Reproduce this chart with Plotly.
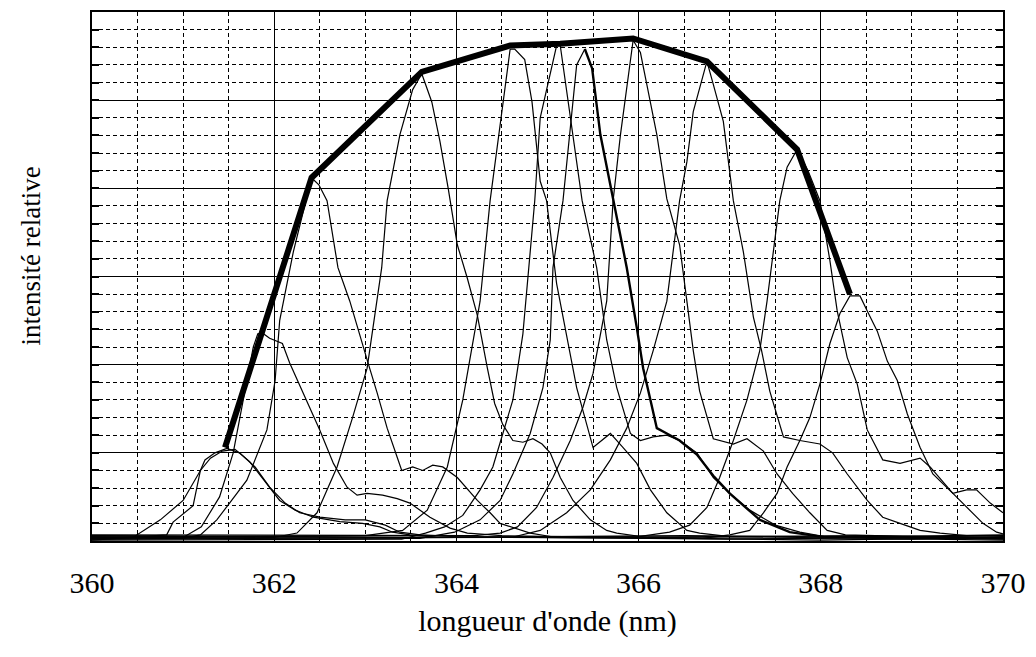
import plotly.graph_objects as go

# Tunable-laser emission spectra: wavelength (nm) vs relative intensity (grid units)
s1_x = [360.0, 360.45, 360.75, 361.0, 361.19, 361.30, 361.43, 361.57, 361.73, 361.90, 362.06,
        362.23, 362.43, 362.72, 362.97, 363.16, 363.30, 363.49, 363.8, 366.5, 370.0]
s1_y = [0.15, 0.2, 1.2, 2.3, 4.0, 4.7, 5.1, 5.2, 4.5, 3.4, 2.3, 1.75, 1.35, 1.1, 1.0, 0.8, 0.5,
        0.35, 0.2, 0.3, 0.15]

s2_x = [360.0, 360.82, 360.89, 361.02, 361.11, 361.19, 361.24, 361.35, 361.48, 361.62, 361.79,
        361.95, 362.12, 362.28, 362.50, 362.78, 363.0, 363.22, 363.38, 363.6, 364.0, 367.0,
        370.0]
s2_y = [0.05, 0.35, 1.07, 1.6, 2.0, 4.0, 4.6, 5.0, 5.25, 5.0, 4.2, 3.05, 2.15, 1.6, 1.35, 1.2,
        1.2, 0.9, 0.5, 0.35, 0.25, 0.1, 0.3]

s3_x = [360.0, 361.0, 361.2, 361.4, 361.55, 361.68, 361.77, 361.82, 361.87, 361.95, 362.09,
        362.17, 362.39, 362.50, 362.65, 362.80, 362.91, 363.02, 363.19, 363.35, 363.49, 363.71,
        363.93, 364.12, 364.5, 368.0, 370.0]
s3_y = [0.25, 0.2, 0.8, 2.5, 5.0, 8.5, 11.0, 11.75, 11.8, 11.5, 11.2, 10.1, 7.6, 6.3, 4.4, 3.05,
        2.6, 2.7, 2.6, 2.4, 2.15, 1.35, 0.73, 0.45, 0.3, 0.05, 0.2]

s4_x = [360.0, 361.0, 361.19, 361.37, 361.51, 361.70, 361.92, 362.01, 362.06, 362.21, 362.41,
        362.49, 362.58, 362.70, 362.83, 362.94, 363.03, 363.13, 363.24, 363.35, 363.40, 363.52,
        363.63, 363.74, 363.85, 364.01, 364.23, 364.37, 364.48, 364.81, 365.1, 368.5, 370.0]
s4_y = [0.1, 0.15, 0.35, 1.2, 2.15, 3.45, 6.3, 9.1, 12.5, 16.4, 20.6, 20.2, 19.3, 15.5, 13.6,
        11.75, 10.1, 8.4, 6.4, 4.75, 4.0, 4.2, 4.0, 4.3, 4.2, 3.6, 2.3, 1.6, 1.0, 0.45, 0.2, 0.3,
        0.1]

s5_x = [360.0, 362.0, 362.25, 362.47, 362.69, 362.86, 363.02, 363.11, 363.18, 363.24, 363.38,
        363.52, 363.62, 363.73, 363.82, 363.91, 364.01, 364.12, 364.23, 364.34, 364.42, 364.51,
        364.62, 364.73, 364.84, 364.94, 365.03, 365.14, 365.28, 365.47, 365.65, 365.76, 366.1,
        369.0, 370.0]
s5_y = [0.3, 0.2, 0.45, 1.6, 4.2, 7.0, 9.8, 13.05, 15.5, 19.3, 23.05, 25.6, 26.5, 24.9, 22.65,
        20.0, 16.8, 14.9, 12.8, 9.8, 7.8, 6.6, 5.7, 5.6, 5.8, 5.5, 5.0, 3.6, 2.3, 1.2, 0.6, 0.45,
        0.2, 0.1, 0.25]

s6_x = [360.0, 363.0, 363.41, 363.68, 363.90, 364.07, 364.26, 364.37, 364.59, 364.64, 364.75,
        364.83, 364.92, 364.99, 365.10, 365.21, 365.32, 365.50, 365.69, 365.83, 365.98, 366.13,
        366.31, 366.53, 366.67, 367.0, 370.0]
s6_y = [0.2, 0.3, 0.6, 1.75, 4.2, 8.0, 13.6, 19.3, 27.9, 27.9, 27.3, 24.9, 20.4, 19.3, 14.6,
        11.75, 8.7, 5.3, 6.1, 5.3, 4.4, 2.9, 1.6, 0.6, 0.45, 0.25, 0.05]

s7_x = [360.0, 363.4, 363.66, 363.87, 364.07, 364.26, 364.40, 364.51, 364.62, 364.73, 364.86,
        364.92, 365.10, 365.14, 365.25, 365.38, 365.54, 365.65, 365.76, 365.91, 366.02, 366.16,
        366.31, 366.45, 366.64, 366.82, 367.0, 367.22, 367.5, 367.77, 368.1, 370.0]
s7_y = [0.05, 0.1, 0.45, 0.8, 1.45, 2.9, 4.2, 6.1, 8.0, 11.75, 19.3, 24.0, 28.1, 28.1, 24.0,
        19.3, 15.5, 11.4, 8.7, 6.1, 5.7, 5.9, 6.0, 5.7, 5.0, 3.6, 2.7, 1.75, 0.9, 0.5, 0.2, 0.35]

# spectrum 8 is split at its maximum: the falling edge is traced heavier
s8_rise_x = [360.0, 363.6, 363.98, 364.26, 364.48, 364.62, 364.81, 364.95, 365.03, 365.06,
             365.17, 365.28, 365.32, 365.41]
s8_rise_y = [0.2, 0.15, 0.5, 1.2, 2.3, 3.8, 6.1, 8.7, 11.4, 15.5, 19.3, 24.75, 27.0, 27.9]
s8_fall_x = [365.41, 365.49, 365.58, 365.72, 365.87, 365.98, 366.05, 366.13, 366.20, 366.31,
             366.45, 366.64, 366.82, 367.0, 367.33, 367.66, 368.0, 370.0]
s8_fall_y = [27.9, 26.8, 23.05, 19.3, 15.5, 12.1, 9.8, 8.0, 6.4, 6.1, 5.7, 4.9, 3.7, 2.7, 1.2,
             0.5, 0.25, 0.15]

s9_x = [360.0, 364.2, 364.48, 364.67, 364.88, 365.06, 365.25, 365.39, 365.50, 365.58, 365.65,
        365.72, 365.80, 365.94, 366.02, 366.09, 366.20, 366.31, 366.45, 366.53, 366.60, 366.67,
        366.75, 366.82, 367.04, 367.19, 367.37, 367.52, 367.69, 367.88, 368.07, 368.27, 368.6,
        370.0]
s9_y = [0.35, 0.3, 0.45, 0.8, 1.9, 3.6, 5.7, 7.6, 9.5, 11.75, 13.6, 19.3, 23.0, 28.4, 27.7, 25.9,
        23.05, 19.4, 16.8, 13.6, 10.8, 8.5, 7.0, 5.8, 5.5, 5.8, 5.1, 3.8, 2.7, 1.6, 0.6, 0.35,
        0.3, 0.2]

s10_x = [360.0, 364.6, 364.92, 365.21, 365.47, 365.69, 365.87, 366.02, 366.16, 366.31, 366.45,
         366.53, 366.60, 366.75, 366.82, 366.93, 367.04, 367.15, 367.26, 367.35, 367.44, 367.59,
         367.77, 367.99, 368.13, 368.29, 368.51, 368.68, 368.87, 369.09, 369.31, 369.6, 370.0]
s10_y = [0.15, 0.2, 0.6, 1.6, 2.9, 4.6, 6.4, 8.4, 10.8, 13.6, 19.3, 21.5, 24.35, 27.2, 25.9,
         23.8, 19.3, 16.4, 12.7, 10.8, 8.5, 5.9, 5.7, 5.5, 5.0, 3.8, 2.3, 1.35, 1.0, 0.6, 0.45,
         0.3, 0.3]

s11_x = [360.0, 366.0, 366.34, 366.56, 366.75, 366.89, 367.04, 367.19, 367.33, 367.41, 367.55,
         367.63, 367.74, 367.86, 367.99, 368.10, 368.18, 368.29, 368.40, 368.51, 368.68, 368.87,
         369.09, 369.20, 369.45, 369.60, 369.78, 369.93, 370.0]
s11_y = [0.1, 0.25, 0.5, 0.9, 1.9, 3.6, 5.7, 8.0, 10.8, 13.6, 19.3, 21.2, 22.2, 21.0, 19.3, 15.9,
         13.05, 10.4, 8.9, 6.3, 4.6, 4.4, 4.7, 4.2, 2.7, 1.9, 1.0, 0.5, 0.4]

s12_x = [360.0, 366.7, 367.0, 367.22, 367.37, 367.52, 367.63, 367.77, 367.88, 367.99, 368.10,
         368.21, 368.32, 368.43, 368.51, 368.62, 368.73, 368.84, 368.95, 369.09, 369.23, 369.45,
         369.60, 369.71, 369.86, 370.0]
s12_y = [0.3, 0.15, 0.35, 0.6, 1.6, 2.7, 4.2, 5.7, 7.0, 8.9, 11.2, 12.9, 13.9, 13.9, 13.05, 11.9,
         10.2, 9.1, 7.2, 5.3, 3.8, 2.7, 2.9, 2.9, 2.15, 1.6]

# envelope joining the spectral maxima
env_x = [361.46, 362.41, 363.62, 364.59, 365.14, 365.94, 366.75, 367.74, 368.32]
env_y = [5.3, 20.6, 26.6, 28.1, 28.2, 28.5, 27.2, 22.2, 14.0]

x_ticks = [360, 362, 364, 366, 368, 370]
x_title = "longueur d'onde (nm)"
y_title = "intensité relative"

SERIF = "Liberation Serif"

thin = [
    (s1_x, s1_y), (s2_x, s2_y), (s3_x, s3_y), (s4_x, s4_y), (s5_x, s5_y), (s6_x, s6_y),
    (s7_x, s7_y), (s8_rise_x, s8_rise_y), (s9_x, s9_y), (s10_x, s10_y), (s11_x, s11_y),
    (s12_x, s12_y),
]

fig = go.Figure()
for xs, ys in thin:
    fig.add_trace(go.Scatter(x=xs, y=ys, mode="lines",
                             line=dict(color="black", width=1.2), hoverinfo="skip"))
fig.add_trace(go.Scatter(x=s8_fall_x, y=s8_fall_y, mode="lines",
                         line=dict(color="black", width=2.4), hoverinfo="skip"))
fig.add_trace(go.Scatter(x=env_x, y=env_y, mode="lines",
                         line=dict(color="black", width=6), hoverinfo="skip"))

fig.update_layout(
    width=1036, height=657,
    margin=dict(l=92, r=33, t=10, b=116),
    paper_bgcolor="white", plot_bgcolor="white",
    showlegend=False,
    font=dict(family=SERIF, color="black"),
    annotations=[dict(
        text=y_title, textangle=-90, xref="paper", yref="paper",
        x=0, y=0.5, xanchor="center", yanchor="middle",
        xshift=-62, yshift=20, showarrow=False,
        font=dict(family=SERIF, size=27, color="black"),
    )],
)

fig.update_xaxes(
    range=[360, 370], tickvals=x_ticks, ticktext=[str(v) for v in x_ticks],
    tickfont=dict(family=SERIF, size=30, color="black"),
    ticks="", ticklabelstandoff=14,
    showgrid=True, gridcolor="black", gridwidth=1,
    minor=dict(dtick=0.5, showgrid=True, gridcolor="black", gridwidth=1.1, griddash="4px,3px"),
    showline=True, linecolor="black", linewidth=1.5, mirror=True,
    zeroline=False,
    title=dict(text=x_title, font=dict(family=SERIF, size=30, color="black"), standoff=12),
)

fig.update_yaxes(
    range=[0, 30], dtick=5, showticklabels=False,
    ticks="inside", ticklen=7, tickcolor="black", tickwidth=1.5,
    showgrid=True, gridcolor="black", gridwidth=1,
    minor=dict(dtick=1, showgrid=True, gridcolor="black", gridwidth=1.1, griddash="4px,3px",
               ticks="inside", ticklen=7, tickcolor="black", tickwidth=1.5),
    showline=True, linecolor="black", linewidth=1.5, mirror="allticks",
    zeroline=False,
)

fig.write_html("out.html")
